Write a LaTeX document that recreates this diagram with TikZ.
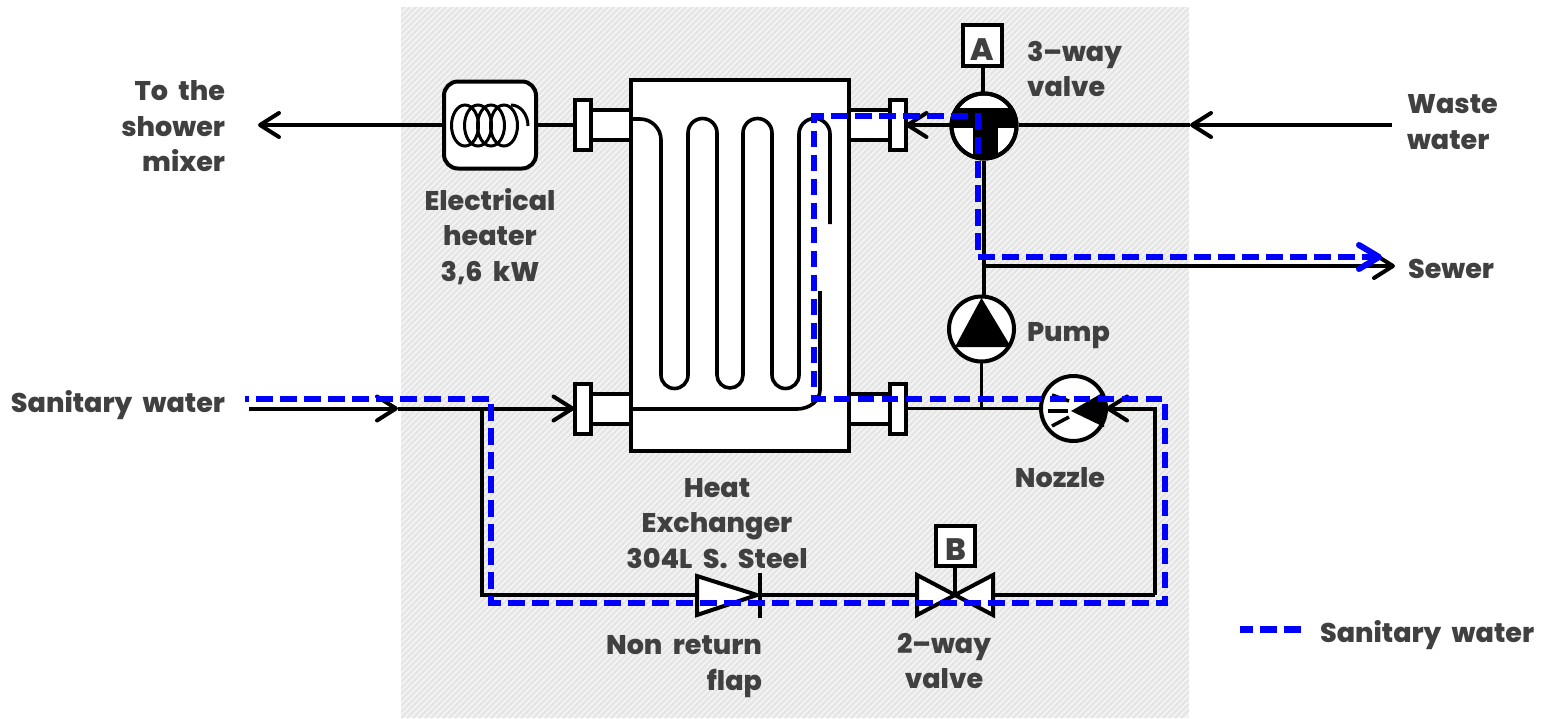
\documentclass[tikz,border=0pt]{standalone}
\usepackage{fontspec}
\setmainfont{Poppins}[BoldFont={Poppins ExtraBold},WordSpace=2]
\usetikzlibrary{arrows.meta,calc}
\definecolor{ink}{HTML}{404040}
\definecolor{bluepath}{HTML}{0000FF}
\definecolor{hatchbg}{HTML}{F3F3F3}
\definecolor{hatchline}{HTML}{E4E4E4}
\tikzset{
  x=1pt,y=-1pt,
  pipe/.style={draw=black,line width=4pt},
  thinpipe/.style={draw=black,line width=3.5pt},
  coil/.style={draw=black,line width=3pt},
  body/.style={draw=black,fill=white,line width=4pt,inner sep=0pt,outer sep=0pt},
  openarrow/.style={-{Straight Barb[length=19pt,width=24pt,line width=4pt,round]}},
  bluedash/.style={draw=bluepath,line width=6.5pt,dash pattern=on 16.5pt off 7.5pt,dash phase=13pt},
  lbl/.style={text=ink,font=\fontsize{27}{35.5}\selectfont\bfseries,inner sep=0pt,outer sep=0pt},
  letter/.style={text=ink,font=\fontsize{31}{31}\selectfont\bfseries,inner sep=0pt},
}
\begin{document}
\begin{tikzpicture}
\useasboundingbox (0,0) rectangle (1542,718);
% background panel
\begin{scope}
  \clip (401,7) rectangle (1189,718);
  \fill[hatchbg] (401,7) rectangle (1189,718);
  \foreach \k in {0,6,...,1500}{
    \draw[hatchline,line width=2pt] ({401+\k-720},718) -- ++(720,-720);
  }
\end{scope}

% heat exchanger
\node[body,minimum width=218pt,minimum height=371pt] (hx) at (740,265.5) {};
% stubs
\node[body,minimum width=41pt,minimum height=30pt] (stubTL) at (610.5,125) {};
\node[body,minimum width=41pt,minimum height=30pt] (stubBL) at (610.5,409) {};
\node[body,minimum width=41pt,minimum height=30pt] (stubTR) at (869.5,125) {};
\node[body,minimum width=41pt,minimum height=30pt] (stubBR) at (869.5,409) {};
\node[body,minimum width=16pt,minimum height=50pt] (flTL) at (582.5,125) {};
\node[body,minimum width=16pt,minimum height=50pt] (flBL) at (582.5,408.5) {};
\node[body,minimum width=16pt,minimum height=50pt] (flTR) at (897.5,125) {};
\node[body,minimum width=16pt,minimum height=50pt] (flBR) at (897.5,408.5) {};
\draw[line width=4pt] (hx.north west) rectangle (hx.south east);

% serpentine tube
\draw[coil,line width=3.6pt] (631,119) -- (640,119) arc[start angle=90,end angle=0,radius=21pt]
  -- (661,375) arc[start angle=180,end angle=360,radius=13.5pt]
  -- (688,133) arc[start angle=180,end angle=0,radius=14.5pt]
  -- (717,375) arc[start angle=180,end angle=360,radius=13pt]
  -- (743,133) arc[start angle=180,end angle=0,radius=14.5pt]
  -- (772,375) arc[start angle=180,end angle=360,radius=13.5pt]
  -- (799,134) arc[start angle=180,end angle=0,radius=15.5pt]
  -- (830,224);
\draw[coil,line width=3.6pt] (631,409) -- (797,409) arc[start angle=-90,end angle=0,x radius=23pt,y radius=19pt] -- (820,291);

% heater
\node[body,rounded corners=14pt,minimum width=92pt,minimum height=87pt] (heater) at (490,125) {};
\foreach \cx in {465,478,491,504}{
  \draw[coil] (\cx,125.5) ellipse [x radius=13.5pt,y radius=20.5pt];
}
\draw[coil] (511,105) arc[start angle=90,end angle=0,x radius=17pt,y radius=21pt];

% 3-way valve
\node[body,circle,minimum size=65pt] (vA) at (984,126) {};
\begin{scope}
  \clip (984,126) circle (32.5pt);
  \fill[black] (945,108) rectangle (1023,128);
  \fill[black] (973,108) rectangle (998,165);
\end{scope}
\node[draw=black,line width=4pt,circle,minimum size=65pt,inner sep=0pt] (vAring) at (984,126) {};
\node[body,minimum width=39pt,minimum height=41pt] (boxA) at (982.5,45.5) {};
\node[letter] at (982.5,50) (la) {A};

% pump
\node[body,circle,minimum size=65pt] (pump) at (981.5,329) {};
\fill[black] (981.5,298) -- (1011,347) -- (955,347) -- cycle;

% nozzle
\node[body,circle,minimum size=65pt] (noz) at (1073.5,408.5) {};
\fill[black] (1071,411) -- (1104,392) -- (1104,427) -- cycle;
\draw[line width=3.5pt] (1052,395) -- (1069,401);
\draw[line width=3.5pt] (1048,411) -- (1068,411);
\draw[line width=3.5pt] (1052,426) -- (1069,417);

% non-return flap, 2-way valve
\coordinate (flapL) at (697,595);
\coordinate (flapR) at (757,595);
\coordinate (vBc) at (955,595);
\coordinate (vBL) at (917,595);
\coordinate (vBR) at (993,595);
\node[body,minimum width=39pt,minimum height=40pt] (boxB) at (955,546) {};
\node[letter] at (955.5,550) (lb) {B};

% junction coordinates
\coordinate (mixerEnd) at (258,125);
\coordinate (wasteEnd) at (1392,125);
\coordinate (wasteMid) at (1190,125);
\coordinate (sewerJ) at (983,266);
\coordinate (sewerEnd) at (1395,266);
\coordinate (sanStart) at (249,408.5);
\coordinate (sanMid) at (398,408.5);
\coordinate (branch) at (482,408.5);
\coordinate (branchB) at (482,595);
\coordinate (cornerR) at (1155,408.5);
\coordinate (cornerRB) at (1155,595);

% pipes
\draw[pipe,openarrow] (heater.west) -- (mixerEnd);
\draw[pipe] (heater.east) -- (flTL.west);
\draw[pipe,openarrow] (wasteEnd) -- (wasteMid);
\draw[pipe] (wasteMid) -- (vAring.east |- wasteMid);
\draw[pipe,openarrow] (vAring.west |- flTR.east) -- (flTR.east);
\draw[pipe] (boxA.south) -- (boxA.south |- vAring.north);
\draw[pipe] (vAring.south) -- (vAring.south |- pump.north);
\draw[pipe,openarrow] (sewerJ) -- (sewerEnd);
\draw[thinpipe] (pump.south) -- (pump.south |- flBR.east);
\draw[thinpipe] (flBR.east) -- (noz.west);
\draw[pipe,openarrow] (cornerRB) -- (cornerR) -- (noz.east);
\draw[pipe,openarrow] (sanStart) -- (sanMid);
\draw[pipe,openarrow] (sanMid) -- (flBL.west);
\draw[pipe] (branch) -- (branchB) -- (flapL);
\draw[pipe] (flapR) -- (vBL);
\draw[pipe] (vBR) -- (cornerRB);
\draw[pipe] (boxB.south) -- (vBc);

% valve bodies on the lower line
\draw[body,line join=miter] (697,576) -- (flapR) -- (697,615) -- cycle;
\draw[line width=4pt] (760,573) -- (760,618);
\draw[body] (917,575) -- (vBc) -- (917,615) -- cycle;
\draw[body] (993,575) -- (vBc) -- (993,615) -- cycle;

% sanitary water path
\coordinate (bS) at (245,399);
\coordinate (bA) at (491,399);
\coordinate (bB) at (491,603);
\coordinate (bC) at (1165,603);
\coordinate (bD) at (1165,399);
\coordinate (bE) at (814,399);
\coordinate (bF) at (814,116);
\coordinate (bG) at (978,116);
\coordinate (bH) at (978,257);
\coordinate (bI) at (1375,257);
\draw[bluedash] (bS) -- (bA) -- (bB) -- (bC) -- (bD) -- (bE) -- (bF) -- (bG) -- (bH) -- (bI);
\draw[bluepath,line width=6pt,-{Straight Barb[length=20pt,width=24pt,line width=6pt,round]}] (1374,257) -- (1382,257);

% legend
\coordinate (legA) at (1240,629.5);
\coordinate (legB) at (1302,629.5);
\draw[bluepath,line width=6.5pt,dash pattern=on 17pt off 7pt,dash phase=4pt] (legA) -- (legB);
\node[lbl,anchor=west] (tLeg) at (1320,635) {Sanitary water};

% labels
\node[lbl,align=right,anchor=east] (t1) at (225,126.5) {To the\\shower\\mixer};
\node[lbl,align=center] (t2) at (490,236.5) {Electrical\\heater\\3,6 kW};
\node[lbl,anchor=east] (t3) at (225,405) {Sanitary water};
\node[lbl,align=left,anchor=west] (t4) at (1027,69) {3–way\\valve};
\node[lbl,align=left,anchor=west] (t5) at (1407,122) {Waste\\water};
\node[lbl,anchor=west] (t6) at (1408,269) {Sewer};
\node[lbl,anchor=west] (t7) at (1027,336) {Pump};
\node[lbl] (t8) at (1060,478) {Nozzle};
\node[lbl,align=center] (t9) at (717,523.5) {Heat\\Exchanger\\304L S. Steel};
\node[lbl,align=right,anchor=east] (t10) at (762,666.5) {Non return\\flap};
\node[lbl,align=center] (t11) at (944,661) {2–way\\valve};
\end{tikzpicture}
\end{document}
